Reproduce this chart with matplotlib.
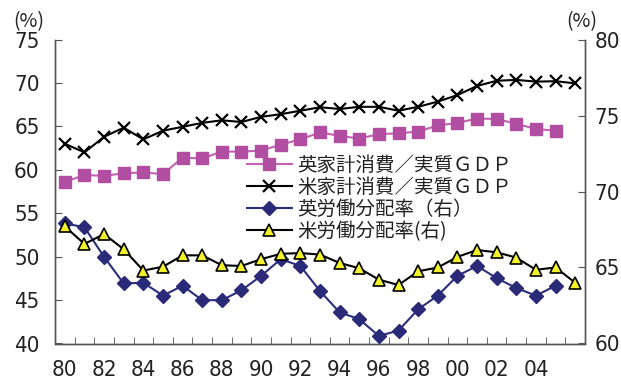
import matplotlib
matplotlib.use("Agg")
import matplotlib.pyplot as plt
import numpy as np
from matplotlib.ticker import FixedLocator, FixedFormatter
from matplotlib import font_manager

plt.rcParams['font.family'] = ['Noto Sans CJK JP', 'DejaVu Sans']

years = list(range(1980, 2007))
year_labels = ["80", "82", "84", "86", "88", "90", "92", "94", "96", "98", "00", "02", "04"]

# 家計消費／実質GDP (left axis, %)
uk_consumption = [58.6, 59.4, 59.3, 59.6, 59.7, 59.5, 61.4, 61.3, 62.1, 62.1, 62.2, 62.9, 63.5,
                  64.3, 63.9, 63.6, 64.1, 64.2, 64.4, 65.1, 65.4, 65.9, 65.85, 65.3, 64.7, 64.5]
us_consumption = [63.0, 62.0, 63.8, 64.85, 63.5, 64.5, 64.95, 65.4, 65.7, 65.5, 66.1, 66.4, 66.8,
                  67.2, 67.0, 67.25, 67.25, 66.8, 67.25, 67.85, 68.6, 69.65, 70.25, 70.35, 70.15, 70.2, 69.95]

# 労働分配率 (right axis, %)
uk_labor_share = [67.9, 67.65, 65.7, 63.95, 64.0, 63.15, 63.8, 62.85, 62.85, 63.5, 64.45, 65.55, 65.1,
                  63.45, 62.05, 61.6, 60.5, 60.85, 62.25, 63.15, 64.45, 65.1, 64.3, 63.65, 63.15, 63.8]
us_labor_share = [67.7, 66.55, 67.2, 66.2, 64.8, 65.05, 65.8, 65.8, 65.15, 65.1, 65.55, 65.9, 65.95,
                  65.85, 65.3, 64.95, 64.2, 63.85, 64.75, 65.0, 65.7, 66.15, 66.0, 65.65, 64.85, 65.0, 64.0]

labels = ["英家計消費／実質ＧＤＰ", "米家計消費／実質ＧＤＰ", "英労働分配率（右）", "米労働分配率(右)"]

# narrow face for the numeric tick labels
available = {f.name for f in font_manager.fontManager.ttflist}
narrow_candidates = ['Liberation Sans Narrow', 'Arial Narrow', 'DejaVu Sans Condensed']
num_family = next((n for n in narrow_candidates if n in available), 'DejaVu Sans')
num_font = font_manager.FontProperties(family=num_family, stretch='condensed', size=16)

fig = plt.figure(figsize=(6.21, 3.86), dpi=100)
ax = fig.add_axes([55 / 621, 1 - 343.5 / 386, 530 / 621, 304 / 386])
ax2 = ax.twinx()

x_all = np.arange(len(years))
x_uk = x_all[:len(uk_consumption)]

h1, = ax.plot(x_uk, uk_consumption, color='#C262B2', lw=1.5, marker='s', ms=8.5,
              mfc='#B24EA2', mec='#B24EA2', zorder=3)
h2, = ax.plot(x_all, us_consumption, color='black', lw=1.5, marker='x', ms=8,
              mew=1.6, zorder=3)
h3, = ax2.plot(x_uk, uk_labor_share, color='#2A2F7A', lw=1.5, marker='D', ms=7,
               mfc='#2A2A78', mec='#2A2A78', zorder=3)
h4, = ax2.plot(x_all, us_labor_share, color='black', lw=1.5, marker='^', ms=9,
               mfc='#F2F22A', mec='black', mew=1.2, zorder=3)

ax.set_xlim(-0.5, len(years) - 0.5)
ax.set_ylim(40, 75)
ax2.set_ylim(60, 80)
ax.set_yticks(np.arange(40, 76, 5))
ax2.set_yticks(np.arange(60, 81, 5))

ax.xaxis.set_major_locator(FixedLocator(x_all[::2][:len(year_labels)]))
ax.xaxis.set_major_formatter(FixedFormatter(year_labels))
ax.xaxis.set_minor_locator(FixedLocator(np.arange(-0.5, len(years), 1.0)))
ax.tick_params(axis='x', which='major', length=0, pad=12)
ax.tick_params(axis='x', which='minor', length=5, direction='in', color='#555555')

ax.tick_params(axis='y', length=5, direction='in', color='#555555', pad=11)
ax2.tick_params(axis='y', length=5, direction='in', color='#555555', pad=7)

for a in (ax, ax2):
    for lab in a.get_xticklabels() + a.get_yticklabels():
        lab.set_fontproperties(num_font)
        lab.set_color('#222222')
    a.spines['top'].set_visible(False)
    for s in ('left', 'right', 'bottom'):
        a.spines[s].set_color('#555555')
        a.spines[s].set_linewidth(1.0)

fig.text(13 / 621, 1 - 22 / 386, "(%)", fontsize=14, va='center', ha='left', color='#222222')
fig.text(566 / 621, 1 - 22 / 386, "(%)", fontsize=14, va='center', ha='left', color='#222222')

leg = ax2.legend([h1, h2, h3, h4], labels, loc='upper left',
                 bbox_to_anchor=(247 / 621, 1 - 155 / 386), bbox_transform=fig.transFigure,
                 frameon=False, fontsize=14, handlelength=2.3, handletextpad=0.3,
                 labelspacing=0.05, borderpad=0, borderaxespad=0)
for t in leg.get_texts():
    t.set_color('#222222')

fig.savefig("out.png", dpi=100)
